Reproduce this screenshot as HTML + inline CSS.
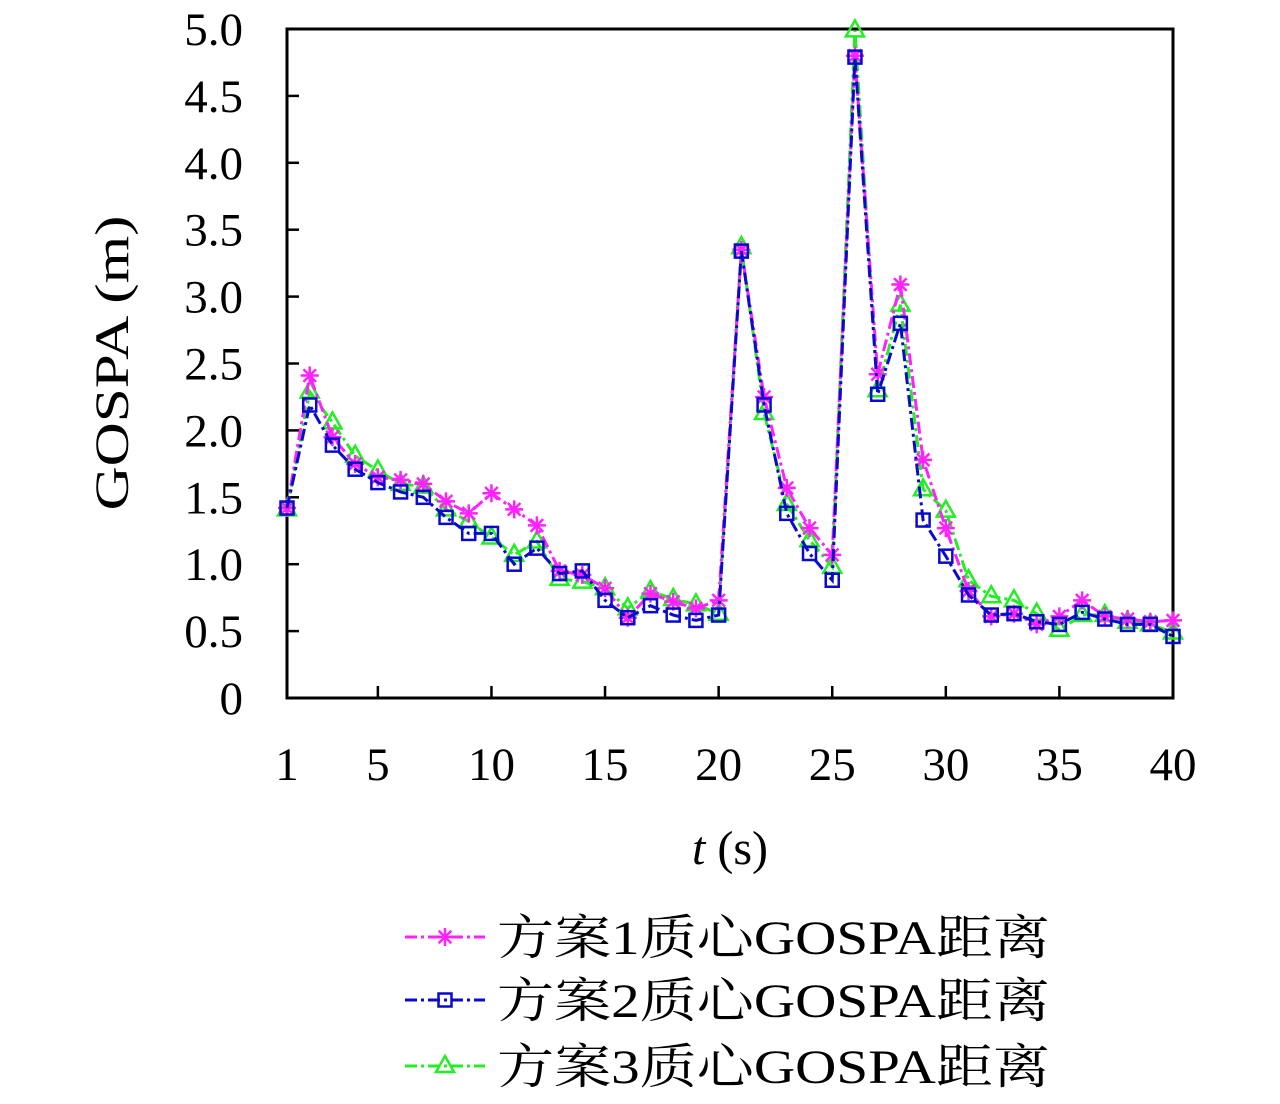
<!DOCTYPE html>
<html><head><meta charset="utf-8">
<style>
body{margin:0;background:#fff;}
svg text{font-family:"Liberation Serif","Noto Serif CJK SC",serif;}
</style></head>
<body>
<svg id="chart" width="1280" height="1099" xmlns="http://www.w3.org/2000/svg">
</svg>
<script>
const tSteps = Array.from({length:40},(_, i)=>i+1);
const scheme1 = [1.42,2.41,1.95,1.75,1.65,1.63,1.60,1.47,1.38,1.53,1.41,1.29,0.95,0.92,0.82,0.60,0.78,0.72,0.67,0.73,3.35,2.25,1.57,1.27,1.07,4.80,2.42,3.09,1.78,1.27,0.80,0.61,0.63,0.55,0.61,0.73,0.61,0.59,0.57,0.58];
const scheme2 = [1.42,2.19,1.89,1.71,1.61,1.54,1.50,1.35,1.23,1.23,1.00,1.12,0.93,0.95,0.73,0.60,0.69,0.62,0.58,0.62,3.34,2.19,1.38,1.08,0.88,4.79,2.27,2.80,1.33,1.06,0.77,0.62,0.63,0.57,0.55,0.64,0.59,0.55,0.55,0.46];
const scheme3 = [1.41,2.29,2.06,1.81,1.70,1.60,1.58,1.41,1.32,1.20,1.07,1.17,0.89,0.87,0.82,0.67,0.80,0.74,0.70,0.63,3.37,2.13,1.45,1.18,0.98,4.99,2.30,2.94,1.56,1.40,0.88,0.76,0.73,0.63,0.51,0.62,0.62,0.57,0.55,0.49];
const xTicks = [1,5,10,15,20,25,30,35,40];
const yTicks = [0,0.5,1.0,1.5,2.0,2.5,3.0,3.5,4.0,4.5,5.0];
const yTickLabels = ["0","0.5","1.0","1.5","2.0","2.5","3.0","3.5","4.0","4.5","5.0"];
const legendLabels = ["方案1质心GOSPA距离","方案2质心GOSPA距离","方案3质心GOSPA距离"];

const L=287,R=1173,T=29,B=698;
const xs=v=>L+(v-1)*(R-L)/39;
const ys=v=>B-v*(B-T)/5;
const svg=document.getElementById('chart');
const NS='http://www.w3.org/2000/svg';
function mk(tag,attrs,parent){const e=document.createElementNS(NS,tag);for(const k in attrs)e.setAttribute(k,attrs[k]);(parent||svg).appendChild(e);return e;}

yTicks.forEach((v,i)=>{
  const y=ys(v);
  const t1=mk('line',{x1:L,x2:L+12,y1:y,y2:y,stroke:'#000','stroke-width':2.5});
  
  
  const tx=mk('text',{x:243,y:y+16,'text-anchor':'end','font-size':47});
  tx.textContent=yTickLabels[i];
  
  
});
xTicks.forEach(v=>{
  const x=xs(v);
  const t1=mk('line',{x1:x,x2:x,y1:B,y2:B-12,stroke:'#000','stroke-width':2.5});
  
  
  const tx=mk('text',{x:x,y:780,'text-anchor':'middle','font-size':47});
  tx.textContent=v;
  
  
});
const frame=mk('rect',{x:L,y:T,width:R-L,height:B-T,fill:'none',stroke:'#000','stroke-width':3});



const yl=mk('text',{x:0,y:0,'text-anchor':'middle','font-size':48,textLength:295,lengthAdjust:'spacingAndGlyphs',transform:'translate(128,363) rotate(-90)'});
yl.textContent='GOSPA (m)';


const xl=mk('text',{x:730,y:864,'text-anchor':'middle','font-size':48});
xl.innerHTML='<tspan font-style="italic">t</tspan> (s)';



function marker(kind,x,y,color,g){
  if(kind==='star'){
    const s=9;
    mk('path',{d:`M${x-s} ${y}H${x+s}M${x} ${y-s}V${y+s}M${x-s*0.7} ${y-s*0.7}L${x+s*0.7} ${y+s*0.7}M${x-s*0.7} ${y+s*0.7}L${x+s*0.7} ${y-s*0.7}`,stroke:color,'stroke-width':2.5,fill:'none'},g);
  } else if(kind==='sq'){
    mk('rect',{x:x-6.5,y:y-6.5,width:13,height:13,stroke:color,'stroke-width':2.5,fill:'none'},g);
  } else {
    mk('path',{d:`M${x} ${y-10}L${x+9} ${y+6}L${x-9} ${y+6}Z`,stroke:color,'stroke-width':2.5,fill:'none'},g);
  }
}
const series=[[scheme1,'#ff22ff','star'],[scheme2,'#0a0acc','sq'],[scheme3,'#22ee22','tri']];
[2,0,1].forEach(si=>{
  const [vals,color,kind]=series[si];
  const g=mk('g',{});
  
  
  const pts=vals.map((v,i)=>xs(tSteps[i])+','+ys(v)).join(' ');
  mk('polyline',{points:pts,fill:'none',stroke:color,'stroke-width':3,'stroke-dasharray':'12,4,3,4'},g);
  vals.forEach((v,i)=>marker(kind,xs(tSteps[i]),ys(v),color,g));
});
series.forEach(([vals,color,kind],i)=>{
  const y=[937,1000,1066][i];
  const g=mk('g',{});
  
  
  mk('line',{x1:405,x2:485,y1:y,y2:y,stroke:color,'stroke-width':3,'stroke-dasharray':'12,4,3,4'},g);
  marker(kind,445,y,color,g);
  const tx=mk('text',{x:497,y:y+17,'font-size':48,textLength:553,lengthAdjust:'spacingAndGlyphs'},g);
  tx.textContent=legendLabels[i];
});
</script>
</body></html>
